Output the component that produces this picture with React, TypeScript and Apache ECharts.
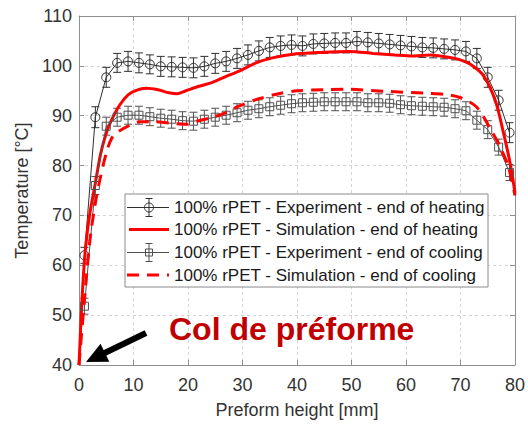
import React, { useEffect, useRef } from "react";
import * as echarts from "echarts";

// Experimental measurement positions along the preform [mm]
const expX = [1, 3, 5, 7, 9, 11, 13, 15, 17, 19, 21, 23, 25, 27, 29, 31, 33, 35, 37, 39,
  41, 43, 45, 47, 49, 51, 53, 55, 57, 59, 61, 63, 65, 67, 69, 71, 73, 75, 77, 79];

// Experiment - end of heating [°C]
const heatExpT = [62.0, 89.7, 97.7, 100.6, 100.9, 100.6, 100.3, 99.9, 99.8, 99.7,
  99.6, 99.9, 100.5, 100.9, 101.5, 102.2, 103.0, 103.7, 104.0, 104.2,
  104.0, 104.4, 104.5, 104.6, 104.6, 104.9, 104.7, 104.5, 104.3, 104.1,
  103.9, 103.7, 103.6, 103.4, 103.2, 102.9, 101.5, 97.7, 93.1, 86.6];
const heatExpErr = [1.6, 2.1, 2.0, 1.9, 2.0, 2.0, 1.9, 2.0, 2.0, 2.0,
  2.0, 2.0, 2.0, 2.0, 2.0, 2.0, 2.0, 2.0, 2.0, 2.0,
  2.0, 2.0, 2.0, 2.0, 2.0, 2.0, 2.0, 2.0, 2.0, 2.0,
  2.0, 2.0, 2.0, 2.0, 2.0, 2.0, 2.0, 2.0, 2.0, 2.0];

// Experiment - end of cooling [°C]
const coolExpT = [51.8, 76.0, 87.9, 89.7, 90.1, 90.1, 89.8, 89.5, 89.3, 89.0,
  88.9, 89.3, 89.7, 90.1, 90.6, 91.1, 91.4, 91.8, 92.1, 92.4,
  92.6, 92.7, 92.8, 92.8, 92.8, 92.8, 92.6, 92.6, 92.5, 92.2,
  92.0, 91.9, 91.8, 91.7, 91.4, 91.0, 89.1, 87.2, 83.7, 78.6];
const coolExpErr = [1.6, 1.8, 1.8, 1.8, 1.8, 1.8, 1.8, 1.8, 1.8, 1.8,
  1.8, 1.8, 1.8, 1.8, 1.8, 1.8, 1.8, 1.8, 1.8, 1.8,
  1.8, 1.8, 1.8, 1.8, 1.8, 1.8, 1.8, 1.8, 1.8, 1.8,
  1.8, 1.8, 1.8, 1.8, 1.8, 1.8, 1.8, 1.8, 1.6, 1.6];

// Simulation - end of heating
const simHeatX = [0, 0.5, 1, 1.5, 2, 3, 4, 5, 6, 7.5, 9, 10.5, 12.3, 14.5, 16.5, 18, 19.6,
  22, 24.5, 27, 29.5, 32.5, 35.5, 39, 44.5, 49.5, 54, 58, 61, 64.5, 68.5, 70.5, 72,
  74.2, 76.4, 77.9, 79.1, 80];
const simHeatT = [40, 52, 61, 66.5, 70.5, 76.5, 82.5, 86.5, 89.2, 92.2, 94.2, 95.1, 95.5,
  95.2, 94.6, 94.4, 95.0, 95.9, 96.7, 97.9, 99.0, 100.6, 101.6, 102.3, 102.7, 102.9,
  102.5, 102.2, 102.0, 102.2, 101.6, 101.0, 100.2, 98.1, 93.0, 86.5, 80.5, 74.5];

// Simulation - end of cooling
const simCoolX = [0, 1, 2, 3, 3.8, 5, 6, 7.2, 9.3, 11.1, 14, 16.6, 19.6, 22, 24.5, 27,
  29.3, 33, 36.6, 40, 45, 49, 56, 64, 67, 70, 73, 75.5, 77.3, 78.8, 80];
const simCoolT = [40, 53, 65, 72.5, 77, 82.5, 85.5, 86.8, 88.1, 88.8, 88.8, 88.5, 88.3,
  89.0, 89.7, 90.6, 91.9, 93.4, 94.4, 95.0, 95.2, 95.3, 94.9, 94.5, 94.3, 93.6, 91.7,
  87.3, 83.7, 79.7, 74];

const legendLabels = [
  "100% rPET - Experiment - end of heating",
  "100% rPET - Simulation - end of heating",
  "100% rPET - Experiment - end of cooling",
  "100% rPET - Simulation - end of cooling",
];

const FONT = "'Liberation Sans', Arial, Helvetica, sans-serif";
const HEAT_EXP = "#2e2e2e";
const COOL_EXP = "#505050";
const SIM_RED = "#ff0000";

const pairs = (xs: number[], ys: number[]) => xs.map((x, i) => [x, ys[i]]);
const errRows = (xs: number[], ys: number[], es: number[]) =>
  xs.map((x, i) => [x, ys[i] - es[i], ys[i] + es[i]]);

function errorBarSeries(data: number[][], color: string) {
  return {
    type: "custom",
    xAxisIndex: 0,
    yAxisIndex: 0,
    encode: { x: 0, y: [1, 2] },
    data,
    clip: true,
    z: 3,
    renderItem: (_params: any, api: any) => {
      const x = api.value(0);
      const top = api.coord([x, api.value(2)]);
      const bot = api.coord([x, api.value(1)]);
      const cap = 4;
      const style = { stroke: color, lineWidth: 1, fill: "none" };
      return {
        type: "group",
        children: [
          { type: "line", shape: { x1: top[0], y1: top[1], x2: bot[0], y2: bot[1] }, style },
          { type: "line", shape: { x1: top[0] - cap, y1: top[1], x2: top[0] + cap, y2: top[1] }, style },
          { type: "line", shape: { x1: bot[0] - cap, y1: bot[1], x2: bot[0] + cap, y2: bot[1] }, style },
        ],
      };
    },
  };
}

function legendGraphics() {
  const left = 125;
  const top = 194;
  const rows = [207.5, 229.5, 252.5, 275];
  const x1 = 127;
  const x2 = 169;
  const mx = 149;
  const items: any[] = [
    {
      type: "rect",
      shape: { x: left, y: top, width: 363, height: 93 },
      style: { fill: "#ffffff", stroke: "#8a8a8a", lineWidth: 1 },
      z: 100,
    },
  ];
  const expIcon = (y: number, color: string, marker: any) => {
    const s = { stroke: color, lineWidth: 1, fill: "none" };
    items.push(
      { type: "line", shape: { x1, y1: y, x2, y2: y }, style: s, z: 101 },
      { type: "line", shape: { x1: mx, y1: y - 9, x2: mx, y2: y + 9 }, style: s, z: 101 },
      { type: "line", shape: { x1: mx - 3.5, y1: y - 9, x2: mx + 3.5, y2: y - 9 }, style: s, z: 101 },
      { type: "line", shape: { x1: mx - 3.5, y1: y + 9, x2: mx + 3.5, y2: y + 9 }, style: s, z: 101 },
      { ...marker, style: s, z: 101 }
    );
  };
  expIcon(rows[0], HEAT_EXP, { type: "circle", shape: { cx: mx, cy: rows[0], r: 4.5 } });
  items.push({
    type: "line",
    shape: { x1: x1 + 2, y1: rows[1], x2, y2: rows[1] },
    style: { stroke: SIM_RED, lineWidth: 3 },
    z: 101,
  });
  expIcon(rows[2], COOL_EXP, { type: "rect", shape: { x: mx - 3.5, y: rows[2] - 3.5, width: 7, height: 7 } });
  items.push({
    type: "line",
    shape: { x1, y1: rows[3], x2, y2: rows[3] },
    style: { stroke: SIM_RED, lineWidth: 3, lineDash: [12, 8] },
    z: 101,
  });
  legendLabels.forEach((label, i) => {
    items.push({
      type: "text",
      x: 174,
      y: rows[i],
      style: {
        text: label,
        font: `17px ${FONT}`,
        fill: "#1a1a1a",
        textVerticalAlign: "middle",
        textAlign: "left",
      },
      z: 102,
    });
  });
  return items;
}

function arrowGraphics() {
  const tail = [146, 333];
  const tip = [86, 362];
  const dx = tip[0] - tail[0];
  const dy = tip[1] - tail[1];
  const len = Math.hypot(dx, dy);
  const ux = dx / len;
  const uy = dy / len;
  const headLen = 21;
  const halfW = 10;
  const bx = tip[0] - headLen * ux;
  const by = tip[1] - headLen * uy;
  const nx = -uy;
  const ny = ux;
  return [
    {
      type: "line",
      shape: { x1: tail[0], y1: tail[1], x2: bx + 2 * ux, y2: by + 2 * uy },
      style: { stroke: "#000", lineWidth: 6 },
      z: 110,
    },
    {
      type: "polygon",
      shape: {
        points: [
          [tip[0], tip[1]],
          [bx + halfW * nx, by + halfW * ny],
          [bx - halfW * nx, by - halfW * ny],
        ],
      },
      style: { fill: "#000" },
      z: 110,
    },
    {
      type: "text",
      x: 169,
      y: 329,
      style: {
        text: "Col de préforme",
        font: `bold 32px ${FONT}`,
        fill: "#c00000",
        textVerticalAlign: "middle",
        textAlign: "left",
      },
      z: 110,
    },
  ];
}

export default function App() {
  const ref = useRef<HTMLDivElement>(null);

  useEffect(() => {
    if (!ref.current) return;
    const chart = echarts.init(ref.current, undefined, { renderer: "svg" });
    const axisColor = "#8f8f8f";
    const gridLine = { show: true, lineStyle: { color: "#d4d4d4", width: 1, type: [3, 3] as any } };

    chart.setOption({
      animation: false,
      backgroundColor: "#ffffff",
      textStyle: { fontFamily: FONT },
      grid: { left: 79, right: 10, top: 16, bottom: 58 },
      xAxis: [
        {
          type: "value",
          min: 0,
          max: 80,
          interval: 10,
          position: "bottom",
          name: "Preform height [mm]",
          nameLocation: "middle",
          nameGap: 36,
          nameTextStyle: { fontSize: 18, color: "#333", fontFamily: FONT },
          axisLine: { show: true, onZero: false, lineStyle: { color: axisColor } },
          axisTick: { show: true, inside: true, length: 5, lineStyle: { color: axisColor } },
          axisLabel: { fontSize: 18, color: "#333", margin: 11, fontFamily: FONT },
          splitLine: gridLine,
        },
        {
          type: "value",
          min: 0,
          max: 80,
          interval: 10,
          position: "top",
          axisLine: { show: true, onZero: false, lineStyle: { color: axisColor } },
          axisTick: { show: true, inside: true, length: 5, lineStyle: { color: axisColor } },
          axisLabel: { show: false },
          splitLine: { show: false },
        },
      ],
      yAxis: [
        {
          type: "value",
          min: 40,
          max: 110,
          interval: 10,
          position: "left",
          name: "Temperature [°C]",
          nameLocation: "middle",
          nameGap: 44,
          nameTextStyle: { fontSize: 18, color: "#333", fontFamily: FONT },
          axisLine: { show: true, onZero: false, lineStyle: { color: axisColor } },
          axisTick: { show: true, inside: true, length: 5, lineStyle: { color: axisColor } },
          axisLabel: { fontSize: 18, color: "#333", margin: 7, fontFamily: FONT },
          splitLine: gridLine,
        },
        {
          type: "value",
          min: 40,
          max: 110,
          interval: 10,
          position: "right",
          axisLine: { show: true, onZero: false, lineStyle: { color: axisColor } },
          axisTick: { show: true, inside: true, length: 5, lineStyle: { color: axisColor } },
          axisLabel: { show: false },
          splitLine: { show: false },
        },
      ],
      series: [
        errorBarSeries(errRows(expX, heatExpT, heatExpErr), HEAT_EXP),
        {
          name: legendLabels[0],
          type: "line",
          data: pairs(expX, heatExpT),
          symbol: "circle",
          symbolSize: 9,
          showAllSymbol: true,
          lineStyle: { color: HEAT_EXP, width: 1 },
          itemStyle: { color: "rgba(0,0,0,0)", borderColor: HEAT_EXP, borderWidth: 1 },
          z: 4,
        },
        {
          name: legendLabels[1],
          type: "line",
          data: pairs(simHeatX, simHeatT),
          symbol: "none",
          smooth: 0.3,
          lineStyle: { color: SIM_RED, width: 3 },
          z: 5,
        },
        errorBarSeries(errRows(expX, coolExpT, coolExpErr), COOL_EXP),
        {
          name: legendLabels[2],
          type: "line",
          data: pairs(expX, coolExpT),
          symbol: "rect",
          symbolSize: 8,
          showAllSymbol: true,
          lineStyle: { color: COOL_EXP, width: 1 },
          itemStyle: { color: "rgba(0,0,0,0)", borderColor: COOL_EXP, borderWidth: 1 },
          z: 6,
        },
        {
          name: legendLabels[3],
          type: "line",
          data: pairs(simCoolX, simCoolT),
          symbol: "none",
          smooth: 0.3,
          lineStyle: { color: SIM_RED, width: 3, type: [12, 8] as any },
          z: 7,
        },
      ],
      graphic: [...legendGraphics(), ...arrowGraphics()],
    });

    return () => chart.dispose();
  }, []);

  return (
    <div
      ref={ref}
      style={{ position: "fixed", left: 0, top: 0, width: 528, height: 424, background: "#fff" }}
    />
  );
}
